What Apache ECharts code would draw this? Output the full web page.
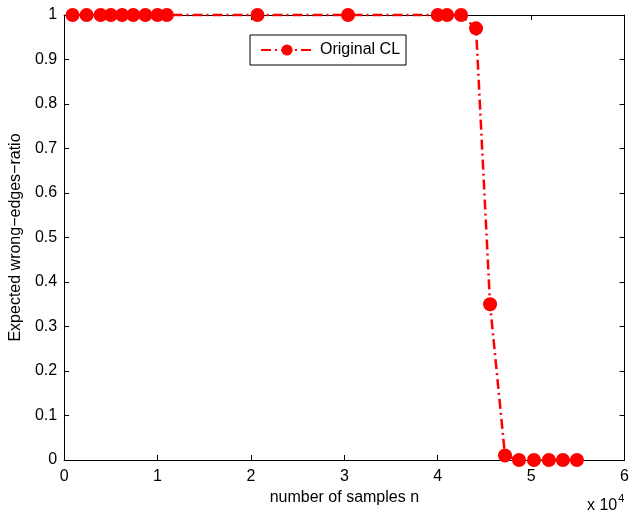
<!DOCTYPE html>
<html>
<head>
<meta charset="utf-8">
<script src="https://cdn.jsdelivr.net/npm/echarts@6/dist/echarts.min.js"></script>
<style>
  html, body { margin: 0; padding: 0; background: #fff; }
  #chart { width: 632px; height: 512px; }
</style>
</head>
<body>
<div id="chart"></div>
<script>
// samples n (raw)
const sampleSizes = [900, 2400, 3900, 5000, 6200, 7400, 8700, 10000, 11000,
    20700, 30400, 40000, 41000, 42500, 44100, 45600, 47200, 48700, 50300, 51900, 53400, 54900];
const wrongRatio = [1, 1, 1, 1, 1, 1, 1, 1, 1,
    1, 1, 1, 1, 1, 0.97, 0.35, 0.01, 0, 0, 0, 0, 0];

const xTicks = [0, 10000, 20000, 30000, 40000, 50000, 60000];

const RED = '#ff0000';
const FONT = 'Liberation Sans';

const chart = echarts.init(document.getElementById('chart'));

const baseAxisLine = { show: true, onZero: false, lineStyle: { color: '#000', width: 1 } };
const tick = { show: true, inside: true, length: 5, lineStyle: { color: '#000' } };

const option = {
    backgroundColor: '#fff',
    animation: false,
    grid: { left: 63, right: 4, top: 15, bottom: 52, containLabel: false },
    legend: {
        left: 250, top: 35,
        itemWidth: 52, itemHeight: 14, itemGap: 6,
        padding: [7, 6, 7, 10],
        borderColor: '#000', borderWidth: 1,
        backgroundColor: '#fff',
        textStyle: { fontFamily: FONT, fontSize: 16, color: '#000', padding: [0, 0, 0, 2] },
        data: ['Original CL']
    },
    xAxis: [{
        type: 'value', min: 0, max: 60000, interval: 10000,
        axisLine: baseAxisLine, axisTick: tick, splitLine: { show: false },
        axisLabel: { color: '#000', fontFamily: FONT, fontSize: 16, margin: 9,
            formatter: v => xTicks.includes(v) ? String(v / 10000) : '' },
        name: 'number of samples n', nameLocation: 'middle', nameGap: 21,
        nameTextStyle: { fontFamily: FONT, fontSize: 16, color: '#000' }
    }, {
        type: 'value', position: 'top', min: 0, max: 60000, interval: 10000,
        axisLine: baseAxisLine, axisTick: tick, axisLabel: { show: false }, splitLine: { show: false }
    }],
    yAxis: [{
        type: 'value', min: 0, max: 1, interval: 0.1,
        axisLine: baseAxisLine, axisTick: tick, splitLine: { show: false },
        axisLabel: { color: '#000', fontFamily: FONT, fontSize: 16, margin: 7,
            formatter: v => String(Math.round(v * 10) / 10) },
        name: 'Expected wrong\u2212edges\u2212ratio', nameLocation: 'middle', nameGap: 36,
        nameTextStyle: { fontFamily: FONT, fontSize: 16, color: '#000' }
    }, {
        type: 'value', position: 'right', min: 0, max: 1, interval: 0.1,
        axisLine: baseAxisLine, axisTick: tick, axisLabel: { show: false }, splitLine: { show: false }
    }],
    graphic: [{
        type: 'text', left: 587, top: 493,
        style: {
            text: '{a|x 10}{b|4}',
            rich: {
                a: { fontFamily: FONT, fontSize: 16, fill: '#000', padding: [5, 0, 0, 0] },
                b: { fontFamily: FONT, fontSize: 11, fill: '#000', verticalAlign: 'top', padding: [0, 0, 3, 1] }
            }
        }
    }],
    series: [{
        name: 'Original CL',
        type: 'line',
        data: sampleSizes.map((n, i) => [n, wrongRatio[i]]),
        clip: false,
        symbol: 'circle', symbolSize: 14,
        itemStyle: { color: RED },
        lineStyle: { color: RED, width: 2.5, type: [10, 4, 2, 4] }
    }]
};

chart.setOption(option);
</script>
</body>
</html>
